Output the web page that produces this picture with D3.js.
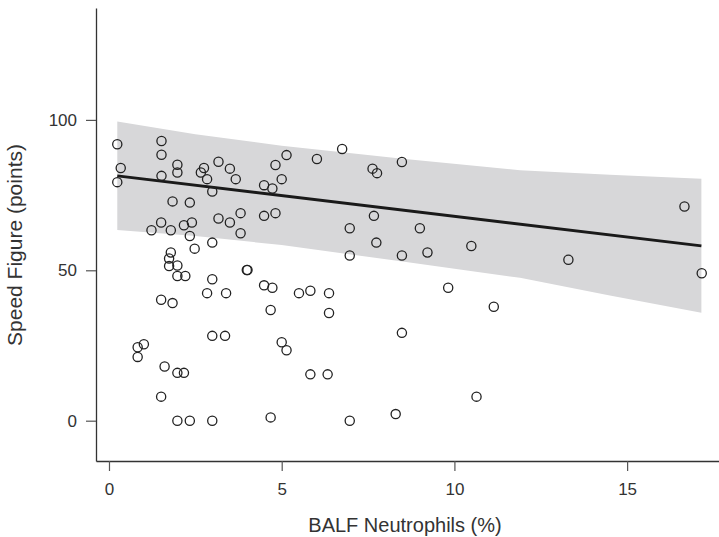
<!DOCTYPE html>
<html>
<head>
<meta charset="utf-8">
<script src="https://cdn.jsdelivr.net/npm/d3@7"></script>
<style>
  body { margin: 0; background: #fff; }
  text { font-family: "Liberation Sans", Arial, sans-serif; fill: #333; }
</style>
</head>
<body>
<svg id="chart" width="719" height="537"></svg>
<script>
// scatter points: BALF neutrophils (%) and speed figure (points)
const neutro = [0.24, 0.34, 0.24, 1.52, 1.52, 1.98, 1.98, 1.52, 2.75, 2.66, 2.84, 3.17, 3.50, 3.67, 2.99,
  5.14, 4.82, 5.00, 4.49, 4.73, 1.84, 2.34, 1.51, 1.23, 1.79, 2.17, 2.40, 2.34, 2.48, 2.99,
  3.17, 3.50, 3.81, 3.81, 4.49, 4.82, 1.79, 1.74, 1.74, 1.98, 3.99, 4.01, 1.98, 2.21, 2.99,
  2.84, 3.39, 4.49, 4.73, 5.50, 4.68, 1.51, 1.84, 2.99, 3.36, 5.00, 5.14, 1.01, 0.83, 0.83,
  1.61, 1.98, 2.17, 1.51, 1.98, 2.34, 2.99, 4.68, 6.02, 6.75, 7.63, 7.76, 8.48, 7.67, 6.97,
  9.00, 7.74, 10.49, 6.97, 8.48, 9.22, 5.83, 6.37, 6.37, 9.82, 11.14, 8.48, 5.83, 6.33, 10.64,
  6.97, 8.30, 16.66, 13.30, 17.16];
const speed = [91.9, 84.0, 79.3, 93.0, 88.4, 85.1, 82.5, 81.4, 84.0, 82.5, 80.3, 86.1, 83.8, 80.3, 76.2,
  88.3, 85.0, 80.3, 78.3, 77.2, 72.9, 72.5, 65.9, 63.3, 63.3, 65.0, 65.9, 61.4, 57.2, 59.2,
  67.2, 65.9, 69.0, 62.3, 68.1, 69.0, 55.9, 53.9, 51.4, 51.6, 50.1, 50.1, 48.1, 48.1, 47.0,
  42.4, 42.4, 45.0, 44.2, 42.4, 36.8, 40.2, 39.1, 28.2, 28.2, 26.1, 23.4, 25.4, 24.4, 21.2,
  18.0, 15.9, 15.9, 8.0, 0, 0, 0, 1.1, 87.0, 90.3, 83.8, 82.3, 86.0, 68.1, 64.0,
  64.0, 59.2, 58.1, 54.9, 54.9, 55.9, 43.2, 42.4, 35.8, 44.2, 37.9, 29.2, 15.4, 15.4, 8.0,
  0, 2.2, 71.2, 53.5, 49.0];

// fitted line and its confidence band
const fitX = [0.24, 17.15];
const fitY = [81.4, 58.1];
const bandX = [0.24, 2.5, 5, 8.5, 11.9, 14.5, 17.15];
const bandUpper = [99.5, 95.2, 91.4, 87.1, 83.3, 81.8, 80.4];
const bandLower = [63.4, 61.4, 58.4, 52.9, 47.5, 41.6, 35.9];

const xTicks = [0, 5, 10, 15];
const yTicks = [0, 50, 100];

const svg = d3.select("#chart"),
      plotLeft = 96, plotRight = 719, plotTop = 8, plotBottom = 461;

const x = d3.scaleLinear().domain([-0.376, 17.66]).range([plotLeft, plotRight]),
      y = d3.scaleLinear().domain([-13.4, 137.2]).range([plotBottom, plotTop]);

// band
const band = bandX.map((v, i) => ({x: v, hi: bandUpper[i], lo: bandLower[i]}));
svg.append("path")
  .datum(band)
  .attr("fill", "#d7d7d9")
  .attr("d", d3.area().x(d => x(d.x)).y0(d => y(d.lo)).y1(d => y(d.hi)));

// fit line
svg.append("path")
  .datum(fitX.map((v, i) => [v, fitY[i]]))
  .attr("fill", "none")
  .attr("stroke", "#1a1a1a")
  .attr("stroke-width", 2.8)
  .attr("d", d3.line().x(d => x(d[0])).y(d => y(d[1])));

// points
svg.append("g")
  .selectAll("circle")
  .data(neutro.map((v, i) => [v, speed[i]]))
  .enter().append("circle")
    .attr("cx", d => x(d[0]))
    .attr("cy", d => y(d[1]))
    .attr("r", 4.6)
    .attr("fill", "none")
    .attr("stroke", "#222")
    .attr("stroke-width", 1.3);

// axes
const xAxis = svg.append("g")
  .attr("transform", `translate(0,${plotBottom})`)
  .call(d3.axisBottom(x).tickValues(xTicks).tickSize(10).tickSizeOuter(0).tickPadding(12));

const yAxis = svg.append("g")
  .attr("transform", `translate(${plotLeft},0)`)
  .call(d3.axisLeft(y).tickValues(yTicks).tickSize(10).tickSizeOuter(0).tickPadding(9));

[xAxis, yAxis].forEach(a => {
  a.select(".domain").attr("stroke", "#333").attr("stroke-width", 1.3);
  a.selectAll(".tick line").attr("stroke", "#555").attr("stroke-width", 1.2);
  a.selectAll(".tick text")
    .style("font-family", "'Liberation Sans', Arial, sans-serif")
    .style("font-size", "17px")
    .attr("fill", "#333");
});

// titles
svg.append("text")
  .attr("x", 405)
  .attr("y", 532)
  .attr("text-anchor", "middle")
  .style("font-size", "20px")
  .text("BALF Neutrophils (%)");

svg.append("text")
  .attr("transform", "rotate(-90)")
  .attr("x", -245)
  .attr("y", 22)
  .attr("text-anchor", "middle")
  .style("font-size", "21px")
  .text("Speed Figure (points)");
</script>
</body>
</html>
